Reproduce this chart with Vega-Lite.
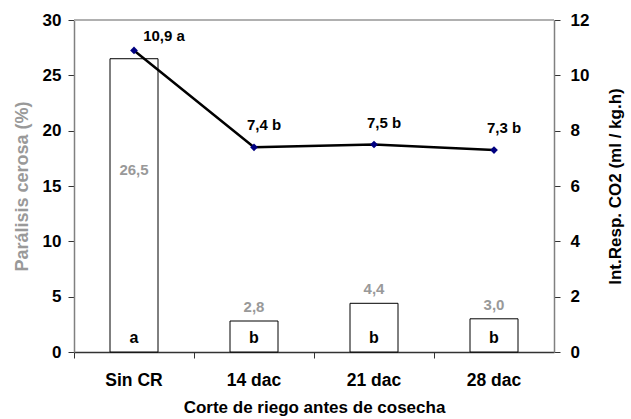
{
  "$schema": "https://vega.github.io/schema/vega-lite/v6.json",
  "width": 480,
  "height": 332,
  "autosize": {"type": "none"},
  "padding": {"left": 74, "top": 20, "right": 77, "bottom": 67},
  "background": "white",
  "config": {
    "view": {"stroke": null},
    "font": "Liberation Sans",
    "axis": {"labelFont": "Liberation Sans", "titleFont": "Liberation Sans", "labelFontWeight": "bold", "titleFontWeight": "bold", "grid": false}
  },
  "data": {"values": [
    {"corte": "Sin CR", "paralisis": 26.5, "par_lbl": "26,5", "letra": "a", "resp": 10.9, "resp_lbl": "10,9 a"},
    {"corte": "14 dac", "paralisis": 2.8, "par_lbl": "2,8", "letra": "b", "resp": 7.4, "resp_lbl": "7,4 b"},
    {"corte": "21 dac", "paralisis": 4.4, "par_lbl": "4,4", "letra": "b", "resp": 7.5, "resp_lbl": "7,5 b"},
    {"corte": "28 dac", "paralisis": 3.0, "par_lbl": "3,0", "letra": "b", "resp": 7.3, "resp_lbl": "7,3 b"}
  ]},
  "layer": [
    {
      "layer": [
        {
          "mark": {"type": "bar", "fill": "white", "stroke": "black", "strokeWidth": 1, "width": {"band": 0.4}},
          "encoding": {
            "x": {
              "field": "corte", "type": "nominal", "sort": ["Sin CR", "14 dac", "21 dac", "28 dac"],
              "scale": {"paddingInner": 0, "paddingOuter": 0},
              "axis": {"title": "Corte de riego antes de cosecha", "grid": false, "labelAngle": 0, "bandPosition": 0, "labelFontSize": 17.5, "titleFontSize": 17, "labelColor": "#000", "titleColor": "#000", "domainColor": "#333", "domainWidth": 1.5, "tickColor": "#333", "tickSize": 6, "labelPadding": 13, "titlePadding": 11}
            },
            "y": {"field": "paralisis", "type": "quantitative", "scale": {"domain": [0, 30]},
              "axis": {"title": "Parálisis cerosa (%)", "orient": "left", "grid": false, "values": [0, 5, 10, 15, 20, 25, 30], "labelFontSize": 17, "titleFontSize": 18, "titleColor": "#999999", "labelColor": "#000", "domainColor": "#808080", "domainWidth": 1.5, "tickColor": "#333", "tickSize": 6, "labelPadding": 7, "titlePadding": 11}}
          }
        },
        {
          "mark": {"type": "rule", "color": "#b0b0b0", "strokeWidth": 2},
          "encoding": {"y": {"datum": 30, "type": "quantitative"}}
        },
        {
          "transform": [{"filter": "datum.corte !== 'Sin CR'"}],
          "mark": {"type": "text", "color": "#999999", "fontWeight": "bold", "fontSize": 15, "baseline": "middle", "dy": -14},
          "encoding": {
            "x": {"field": "corte", "type": "nominal", "sort": ["Sin CR", "14 dac", "21 dac", "28 dac"]},
            "y": {"field": "paralisis", "type": "quantitative"}, "text": {"field": "par_lbl"}}
        },
        {
          "transform": [{"filter": "datum.corte === 'Sin CR'"}],
          "mark": {"type": "text", "color": "#999999", "fontWeight": "bold", "fontSize": 15, "baseline": "middle", "dy": 111},
          "encoding": {
            "x": {"field": "corte", "type": "nominal", "sort": ["Sin CR", "14 dac", "21 dac", "28 dac"]},
            "y": {"field": "paralisis", "type": "quantitative"}, "text": {"field": "par_lbl"}}
        },
        {
          "mark": {"type": "text", "color": "black", "fontWeight": "bold", "fontSize": 16, "baseline": "middle", "dy": -14},
          "encoding": {
            "x": {"field": "corte", "type": "nominal", "sort": ["Sin CR", "14 dac", "21 dac", "28 dac"]},
            "y": {"datum": 0, "type": "quantitative"}, "text": {"field": "letra"}}
        }
      ]
    },
    {
      "layer": [
        {
          "mark": {"type": "line", "color": "black", "strokeWidth": 2.5},
          "encoding": {
            "x": {"field": "corte", "type": "nominal", "sort": ["Sin CR", "14 dac", "21 dac", "28 dac"]},
            "y": {"field": "resp", "type": "quantitative", "scale": {"domain": [0, 12]},
            "axis": {"title": "Int.Resp. CO2 (ml / kg.h)", "orient": "right", "grid": false, "titleAngle": 270, "values": [0, 2, 4, 6, 8, 10, 12], "labelFontSize": 17, "titleFontSize": 17, "titleColor": "#000", "labelColor": "#000", "domainColor": "#808080", "domainWidth": 1.5, "tickColor": "#333", "tickSize": 6, "labelPadding": 10, "titlePadding": 36}}}
        },
        {
          "mark": {"type": "point", "shape": "diamond", "filled": true, "color": "#000080", "size": 60, "opacity": 1},
          "encoding": {
            "x": {"field": "corte", "type": "nominal", "sort": ["Sin CR", "14 dac", "21 dac", "28 dac"]},
            "y": {"field": "resp", "type": "quantitative"}}
        },
        {
          "transform": [{"filter": "datum.corte === 'Sin CR'"}],
          "mark": {"type": "text", "color": "black", "fontWeight": "bold", "fontSize": 15, "baseline": "middle", "dx": 30, "dy": -14},
          "encoding": {
            "x": {"field": "corte", "type": "nominal", "sort": ["Sin CR", "14 dac", "21 dac", "28 dac"]},
            "y": {"field": "resp", "type": "quantitative"}, "text": {"field": "resp_lbl"}}
        },
        {
          "transform": [{"filter": "datum.corte !== 'Sin CR'"}],
          "mark": {"type": "text", "color": "black", "fontWeight": "bold", "fontSize": 15, "baseline": "middle", "dx": 10, "dy": -22},
          "encoding": {
            "x": {"field": "corte", "type": "nominal", "sort": ["Sin CR", "14 dac", "21 dac", "28 dac"]},
            "y": {"field": "resp", "type": "quantitative"}, "text": {"field": "resp_lbl"}}
        }
      ]
    }
  ],
  "resolve": {"scale": {"y": "independent"}}
}
